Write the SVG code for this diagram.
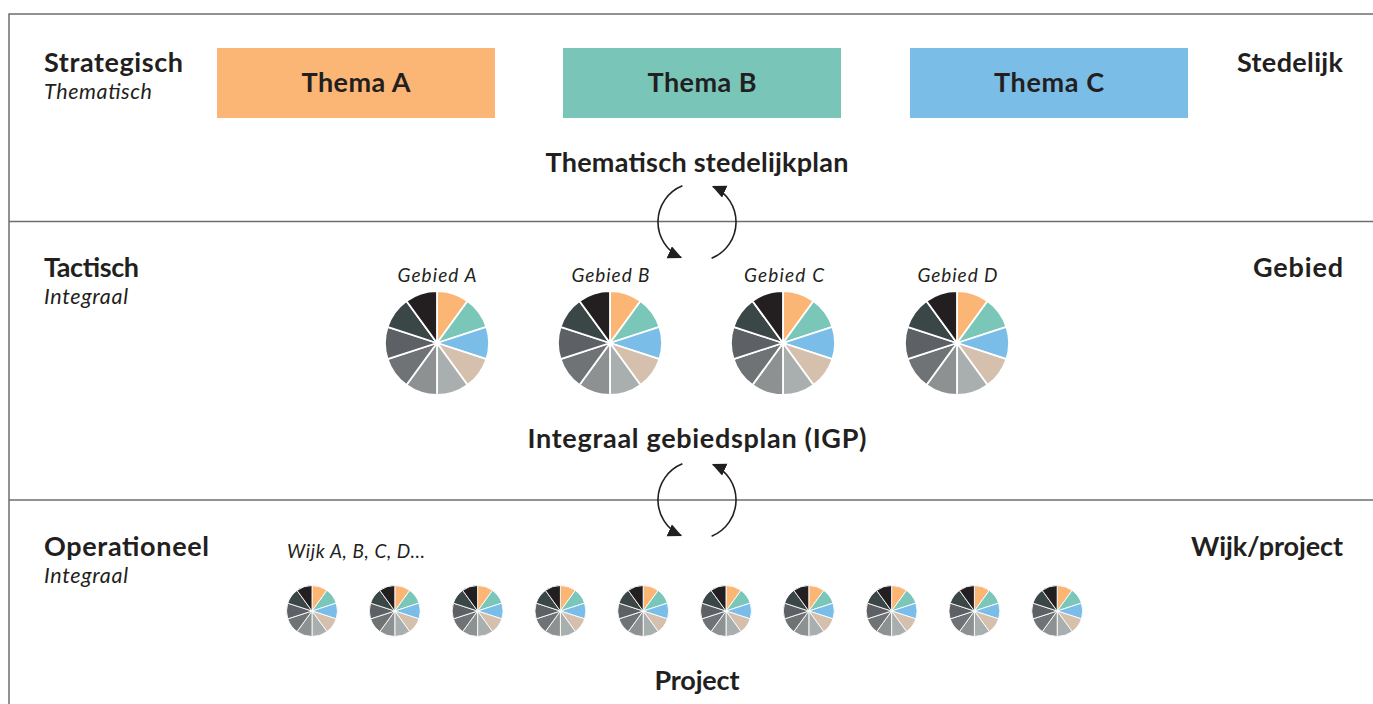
<svg xmlns="http://www.w3.org/2000/svg" xmlns:xlink="http://www.w3.org/1999/xlink" width="1373" height="704" viewBox="0 0 1373 704">
  <style>
    .frame { stroke: #6d6e70; stroke-width: 1.5; fill: none; }
    .t { font-family: "Lato", "Liberation Sans", sans-serif; fill: #231F20; }
    .h { font-size: 27px; font-weight: 700; }
    .sub { font-size: 21.5px; font-style: italic; }
    .lbl { font-size: 19px; font-style: italic; }
    .mid { text-anchor: middle; }
    .end { text-anchor: end; }
    .cycle { fill: none; stroke: #231F20; stroke-width: 1.6; }
    .wedge { stroke: #ffffff; stroke-width: 1.8; stroke-linejoin: round; }
  </style>
  <defs>
    <marker id="arrow" markerUnits="userSpaceOnUse" markerWidth="16" markerHeight="14" refX="13" refY="6.5" orient="auto">
      <path d="M0,0 L14,6.5 L0,13 Z" fill="#231F20"/>
    </marker>
    <!-- ten-part pie, radius 52, centred on the origin -->
    <g id="pie">
      <path class="wedge" fill="#FBB574" d="M0,0 L0,-52 A52,52 0 0 1 30.56,-42.07 Z"/>
      <path class="wedge" fill="#7AC6B9" d="M0,0 L30.56,-42.07 A52,52 0 0 1 49.46,-16.07 Z"/>
      <path class="wedge" fill="#79BDE8" d="M0,0 L49.46,-16.07 A52,52 0 0 1 49.46,16.07 Z"/>
      <path class="wedge" fill="#D5C0AD" d="M0,0 L49.46,16.07 A52,52 0 0 1 30.56,42.07 Z"/>
      <path class="wedge" fill="#A9AFAF" d="M0,0 L30.56,42.07 A52,52 0 0 1 0,52 Z"/>
      <path class="wedge" fill="#8D9192" d="M0,0 L0,52 A52,52 0 0 1 -30.56,42.07 Z"/>
      <path class="wedge" fill="#6F7375" d="M0,0 L-30.56,42.07 A52,52 0 0 1 -49.46,16.07 Z"/>
      <path class="wedge" fill="#5D6064" d="M0,0 L-49.46,16.07 A52,52 0 0 1 -49.46,-16.07 Z"/>
      <path class="wedge" fill="#3B4747" d="M0,0 L-49.46,-16.07 A52,52 0 0 1 -30.56,-42.07 Z"/>
      <path class="wedge" fill="#231F20" d="M0,0 L-30.56,-42.07 A52,52 0 0 1 0,-52 Z"/>
    </g>
  </defs>

  <rect width="1373" height="704" fill="#ffffff"/>

  <!-- frame and level dividers -->
  <g id="frame">
    <path class="frame" d="M1373,14 H9 V704"/>
    <path class="frame" d="M9,221.5 H1373"/>
    <path class="frame" d="M9,500 H1373"/>
  </g>

  <!-- strategic level -->
  <g id="level-strategisch">
    <text class="t h" x="44" y="72" textLength="139">Strategisch</text>
    <text class="t sub" x="44" y="98.5" textLength="108">Thematisch</text>
    <text class="t h end" x="1343" y="72" textLength="106">Stedelijk</text>
  </g>
  <g id="thema-a">
    <rect x="217" y="48" width="278" height="70" fill="#FBB574"/>
    <text class="t h mid" x="356" y="92" textLength="109">Thema A</text>
  </g>
  <g id="thema-b">
    <rect x="563" y="48" width="278" height="70" fill="#79C5B8"/>
    <text class="t h mid" x="702" y="92" textLength="109">Thema B</text>
  </g>
  <g id="thema-c">
    <rect x="910" y="48" width="278" height="70" fill="#7ABDE7"/>
    <text class="t h mid" x="1049" y="92" textLength="110">Thema C</text>
  </g>
  <g id="plan-stedelijk">
    <text class="t h mid" x="697" y="172" textLength="303">Thematisch stedelijkplan</text>
  </g>

  <!-- tactical level -->
  <g id="level-tactisch">
    <text class="t h" x="44" y="277" textLength="95">Tactisch</text>
    <text class="t sub" x="44" y="303.5" textLength="84">Integraal</text>
    <text class="t h end" x="1343" y="277" textLength="90">Gebied</text>
  </g>
  <g id="gebied-a">
    <text class="t lbl mid" x="437" y="281.5" textLength="79">Gebied A</text>
    <use xlink:href="#pie" transform="translate(437,343)"/>
  </g>
  <g id="gebied-b">
    <text class="t lbl mid" x="610.5" y="281.5" textLength="78">Gebied B</text>
    <use xlink:href="#pie" transform="translate(610,343)"/>
  </g>
  <g id="gebied-c">
    <text class="t lbl mid" x="784" y="281.5" textLength="80">Gebied C</text>
    <use xlink:href="#pie" transform="translate(783,343)"/>
  </g>
  <g id="gebied-d">
    <text class="t lbl mid" x="957.5" y="281.5" textLength="80">Gebied D</text>
    <use xlink:href="#pie" transform="translate(957,343)"/>
  </g>
  <g id="plan-igp">
    <text class="t h mid" x="697" y="448" textLength="339">Integraal gebiedsplan (IGP)</text>
  </g>

  <!-- operational level -->
  <g id="level-operationeel">
    <text class="t h" x="44" y="556" textLength="165">Operationeel</text>
    <text class="t sub" x="44" y="582.5" textLength="84">Integraal</text>
    <text class="t h end" x="1343" y="556" textLength="152">Wijk/project</text>
  </g>
  <g id="wijken">
    <text class="t lbl" x="287" y="558" textLength="138">Wijk A, B, C, D...</text>
    <use xlink:href="#pie" transform="translate(312,611) scale(0.49)"/>
    <use xlink:href="#pie" transform="translate(394.8,611) scale(0.49)"/>
    <use xlink:href="#pie" transform="translate(477.6,611) scale(0.49)"/>
    <use xlink:href="#pie" transform="translate(560.4,611) scale(0.49)"/>
    <use xlink:href="#pie" transform="translate(643.2,611) scale(0.49)"/>
    <use xlink:href="#pie" transform="translate(726,611) scale(0.49)"/>
    <use xlink:href="#pie" transform="translate(808.8,611) scale(0.49)"/>
    <use xlink:href="#pie" transform="translate(891.6,611) scale(0.49)"/>
    <use xlink:href="#pie" transform="translate(974.4,611) scale(0.49)"/>
    <use xlink:href="#pie" transform="translate(1057.2,611) scale(0.49)"/>
  </g>
  <g id="project">
    <text class="t h mid" x="697" y="690" textLength="85">Project</text>
  </g>

  <!-- feedback cycles between levels -->
  <g id="connectors">
    <path class="cycle" marker-end="url(#arrow)" d="M682.4,185.8 A39,39 0 0 0 681.1,257.6"/>
    <path class="cycle" marker-end="url(#arrow)" d="M711.6,258.2 A39,39 0 0 0 712.9,186.4"/>
    <path class="cycle" marker-end="url(#arrow)" d="M682.4,463.8 A39,39 0 0 0 681.1,535.6"/>
    <path class="cycle" marker-end="url(#arrow)" d="M711.6,536.2 A39,39 0 0 0 712.9,464.4"/>
  </g>
</svg>
